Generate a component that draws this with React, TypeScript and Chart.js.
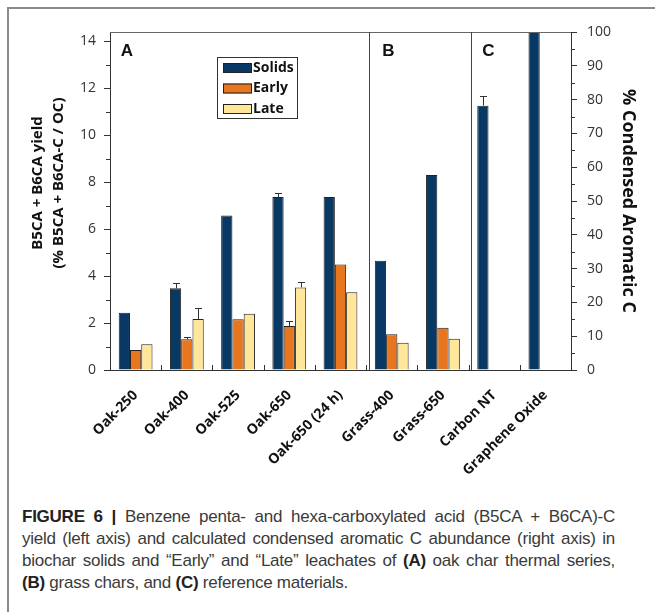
import React, { useEffect, useRef } from "react";
import { Chart, registerables } from "chart.js";

Chart.register(...registerables);

const categories = [
  "Oak-250",
  "Oak-400",
  "Oak-525",
  "Oak-650",
  "Oak-650 (24 h)",
  "Grass-400",
  "Grass-650",
  "Carbon NT",
  "Graphene Oxide",
];
const solids = [2.44, 3.48, 6.58, 7.37, 7.37, 4.65, 8.31, 11.26, 14.4];
const early = [0.85, 1.31, 2.16, 1.87, 4.5, 1.52, 1.8, null, null];
const late = [1.1, 2.17, 2.4, 3.52, 3.31, 1.16, 1.33, null, null];
const solidsErr = [null, 0.21, null, 0.19, null, null, null, 0.41, null];
const earlyErr = [null, 0.11, null, 0.23, null, null, null, null, null];
const lateErr = [null, 0.46, null, 0.24, null, null, null, null, null];
const seriesNames = ["Solids", "Early", "Late"];
const seriesColors = ["#083864", "#E8761F", "#FFE699"];
const panelLabels = ["A", "B", "C"];
const leftTitle = ["B5CA + B6CA yield", "(% B5CA + B6CA-C / OC)"];
const rightTitle = "% Condensed Aromatic C";
const leftMax = 14.4;
const rightMax = 100;

const errors = [solidsErr, earlyErr, lateErr];
const FONT = "'Open Sans', 'DejaVu Sans', sans-serif";
const INK = "#333";

const decorPlugin = {
  id: "decor",
  afterDatasetsDraw(chart: any) {
    const { ctx, chartArea: a, scales } = chart;
    const xs = scales.x;
    const ys = scales.y;
    const yr = scales.y2;
    ctx.save();
    ctx.strokeStyle = INK;
    ctx.lineWidth = 1;

    // error bars
    chart.data.datasets.forEach((ds: any, di: number) => {
      const meta = chart.getDatasetMeta(di);
      const errs = errors[di];
      meta.data.forEach((bar: any, i: number) => {
        const e = errs[i];
        const v = ds.data[i];
        if (e == null || v == null) return;
        const yv = ys.getPixelForValue(v);
        const yt = ys.getPixelForValue(v + e);
        const cx = Math.round(bar.x) + 0.5;
        ctx.beginPath();
        ctx.moveTo(cx, yv);
        ctx.lineTo(cx, Math.round(yt) + 0.5);
        ctx.moveTo(cx - 3.5, Math.round(yt) + 0.5);
        ctx.lineTo(cx + 3.5, Math.round(yt) + 0.5);
        ctx.stroke();
      });
    });

    // top border of plot
    ctx.strokeStyle = "#666";
    ctx.beginPath();
    ctx.moveTo(a.left, Math.round(a.top) + 0.5);
    ctx.lineTo(a.right, Math.round(a.top) + 0.5);
    ctx.stroke();

    // panel separators
    ctx.strokeStyle = "#444";
    const sep1 = Math.round(xs.getPixelForValue(4.55)) + 0.5;
    const sep2 = Math.round(xs.getPixelForValue(6.55)) + 0.5;
    [sep1, sep2].forEach((sx) => {
      ctx.beginPath();
      ctx.moveTo(sx, a.top);
      ctx.lineTo(sx, a.bottom);
      ctx.stroke();
    });

    // category boundary ticks (inward)
    ctx.strokeStyle = INK;
    for (let i = 0; i < categories.length - 1; i++) {
      const px = Math.round(xs.getPixelForValue(i + 0.5)) + 0.5;
      ctx.beginPath();
      ctx.moveTo(px, a.bottom);
      ctx.lineTo(px, a.bottom - 5);
      ctx.stroke();
    }

    // minor ticks
    for (let v = 1; v < leftMax; v += 2) {
      const py = Math.round(ys.getPixelForValue(v)) + 0.5;
      ctx.beginPath();
      ctx.moveTo(a.left - 4, py);
      ctx.lineTo(a.left, py);
      ctx.stroke();
    }
    for (let v = 5; v < rightMax; v += 10) {
      const py = Math.round(yr.getPixelForValue(v)) + 0.5;
      ctx.beginPath();
      ctx.moveTo(a.right, py);
      ctx.lineTo(a.right + 4, py);
      ctx.stroke();
    }

    // panel letters
    ctx.fillStyle = "#111";
    ctx.font = "bold 17px 'Liberation Sans', Arial, sans-serif";
    ctx.textAlign = "center";
    ctx.textBaseline = "middle";
    const ly = a.top + 19;
    ctx.fillText(panelLabels[0], a.left + 17, ly);
    ctx.fillText(panelLabels[1], sep1 + 19, ly);
    ctx.fillText(panelLabels[2], sep2 + 17, ly);

    // legend
    const lx = a.left + 107;
    const lt = a.top + 25;
    const lw = 80;
    const lh = 61;
    ctx.fillStyle = "#fff";
    ctx.fillRect(lx, lt, lw, lh);
    ctx.strokeStyle = "#333";
    ctx.strokeRect(lx + 0.5, lt + 0.5, lw, lh);
    ctx.font = `bold 14px ${FONT}`;
    ctx.textAlign = "left";
    seriesNames.forEach((name, i) => {
      const cy = lt + 11 + i * 20.5;
      ctx.fillStyle = seriesColors[i];
      ctx.fillRect(lx + 6, cy - 5, 29, 10);
      ctx.strokeStyle = "#222";
      ctx.strokeRect(lx + 6.5, cy - 4.5, 28, 9);
      ctx.fillStyle = "#111";
      ctx.fillText(name, lx + 36, cy);
    });

    // axis titles
    ctx.fillStyle = "#111";
    ctx.font = `bold 15px ${FONT}`;
    ctx.textAlign = "center";
    ctx.textBaseline = "middle";
    const tcy = (a.top + a.bottom) / 2 - 18;
    leftTitle.forEach((t, i) => {
      ctx.save();
      ctx.translate(38 + i * 21, tcy);
      ctx.rotate(-Math.PI / 2);
      ctx.fillText(t, 0, 0);
      ctx.restore();
    });
    ctx.font = `bold 18px ${FONT}`;
    ctx.save();
    ctx.translate(a.right + 57, (a.top + a.bottom) / 2);
    ctx.rotate(Math.PI / 2);
    ctx.fillText(rightTitle, 0, 0);
    ctx.restore();

    ctx.restore();
  },
};

export default function App() {
  const canvasRef = useRef<HTMLCanvasElement | null>(null);

  useEffect(() => {
    const canvas = canvasRef.current;
    if (!canvas) return;
    const datasets = [solids, early, late].map((d, i) => ({
      label: seriesNames[i],
      data: d,
      backgroundColor: seriesColors[i],
      borderColor: "#222",
      borderWidth: 1,
      categoryPercentage: 0.66,
      barPercentage: 1.0,
      yAxisID: "y",
    }));
    const chart = new Chart(canvas, {
      type: "bar",
      data: { labels: categories, datasets },
      plugins: [decorPlugin],
      options: {
        animation: false,
        responsive: false,
        devicePixelRatio: 1,
        layout: { padding: { top: 32, left: 0, right: 0, bottom: 0 } },
        plugins: { legend: { display: false }, tooltip: { enabled: false } },
        scales: {
          x: {
            grid: { display: false, drawTicks: false },
            border: { display: true, color: INK, width: 1 },
            ticks: {
              autoSkip: false,
              maxRotation: 45,
              minRotation: 45,
              padding: 17,
              color: "#111",
              font: { family: FONT, size: 14, weight: "bold" },
            },
            afterFit: (s: any) => {
              s.height = 120;
            },
          },
          y: {
            position: "left",
            min: 0,
            max: leftMax,
            grid: { drawOnChartArea: false, tickLength: 6, color: INK },
            border: { display: true, color: INK, width: 1 },
            ticks: {
              stepSize: 2,
              includeBounds: false,
              padding: 8,
              color: INK,
              font: { family: FONT, size: 14 },
            },
            afterFit: (s: any) => {
              s.width = 110;
            },
          },
          y2: {
            position: "right",
            min: 0,
            max: rightMax,
            display: true,
            grid: { drawOnChartArea: false, tickLength: 6, color: INK },
            border: { display: true, color: INK, width: 1 },
            ticks: {
              stepSize: 10,
              includeBounds: false,
              padding: 10,
              color: INK,
              font: { family: FONT, size: 14 },
            },
            afterFit: (s: any) => {
              s.width = 84;
            },
          },
        },
      },
    });
    return () => chart.destroy();
  }, []);

  const capFont = "'Liberation Sans', Arial, sans-serif";
  const lineStyle: React.CSSProperties = {
    textAlign: "justify",
    textAlignLast: "justify",
    whiteSpace: "nowrap",
    height: 22,
  };
  return (
    <div
      style={{
        position: "fixed",
        left: 0,
        top: 0,
        width: 655,
        height: 612,
        overflow: "hidden",
        background: "#fff",
      }}
    >
      <div
        style={{
          position: "absolute",
          left: 7,
          top: 7,
          width: 700,
          height: 700,
          borderLeft: "2px solid #8a8a8a",
          borderTop: "2px solid #8a8a8a",
        }}
      />
      <canvas
        ref={canvasRef}
        width={655}
        height={490}
        style={{ position: "absolute", left: 0, top: 0, width: 655, height: 490 }}
      />
      <div
        style={{
          position: "absolute",
          left: 22,
          top: 506,
          width: 593,
          fontFamily: capFont,
          fontSize: 17,
          letterSpacing: -0.25,
          lineHeight: "22px",
          color: "#3a3a3a",
        }}
      >
        <div style={lineStyle}>
          <b style={{ color: "#222" }}>FIGURE 6 |</b> Benzene penta- and hexa-carboxylated acid (B5CA + B6CA)-C
        </div>
        <div style={lineStyle}>
          yield (left axis) and calculated condensed aromatic C abundance (right axis) in
        </div>
        <div style={lineStyle}>
          biochar solids and “Early” and “Late” leachates of <b style={{ color: "#222" }}>(A)</b> oak char thermal series,
        </div>
        <div style={{ height: 22, whiteSpace: "nowrap" }}>
          <b style={{ color: "#222" }}>(B)</b> grass chars, and <b style={{ color: "#222" }}>(C)</b> reference materials.
        </div>
      </div>
    </div>
  );
}
